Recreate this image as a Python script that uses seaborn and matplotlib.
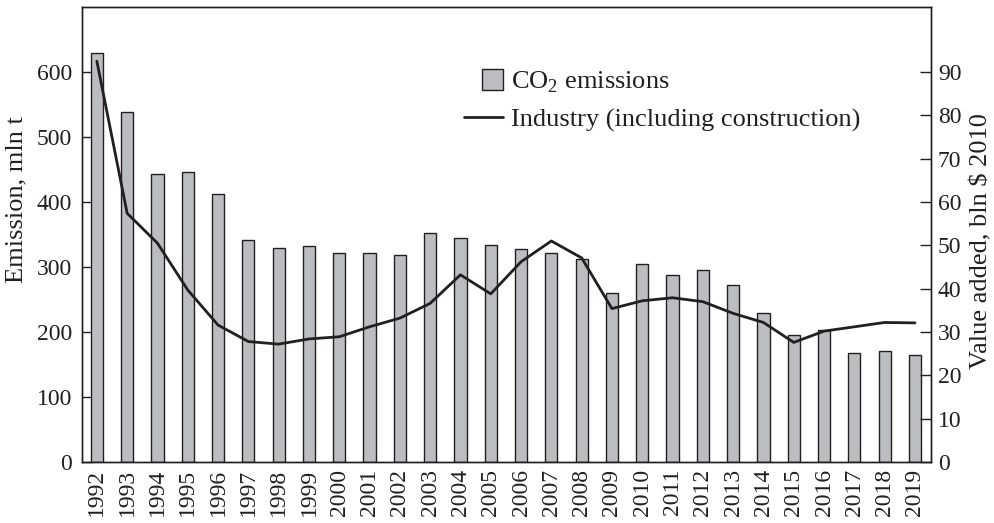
import numpy as np
import pandas as pd
import matplotlib
matplotlib.use("Agg")
import matplotlib.pyplot as plt
import seaborn as sns
from matplotlib.patches import Rectangle
from matplotlib.lines import Line2D
from matplotlib.legend_handler import HandlerPatch

years = [str(y) for y in range(1992, 2020)]
co2 = [630, 539, 443, 446, 413, 341, 329, 333, 321, 322, 319, 353, 344, 334,
       327, 321, 312, 260, 305, 287, 296, 272, 229, 196, 203, 167, 171, 164]
value_added = [92.5, 57.4, 50.5, 39.7, 31.6, 27.8, 27.2, 28.4, 28.9, 31.2, 33.2,
               36.6, 43.2, 38.8, 46.2, 51.0, 47.1, 35.4, 37.2, 37.9, 37.0, 34.3,
               32.2, 27.6, 30.2, 31.2, 32.2, 32.1]
left_ticks = [0, 100, 200, 300, 400, 500, 600]
right_ticks = [0, 10, 20, 30, 40, 50, 60, 70, 80, 90]

sns.set_theme(style="white")
plt.rcParams["font.family"] = ["Liberation Serif", "DejaVu Serif"]
plt.rcParams["mathtext.fontset"] = "custom"
plt.rcParams["mathtext.rm"] = "Liberation Serif"

FS = 17
LFS = 19
ink = "#231f20"
bar_color = "#bcbdc1"

df = pd.DataFrame({"year": years, "co2": co2, "va": value_added})
df["pos"] = np.arange(len(df))

fig = plt.figure(figsize=(9.95, 5.23), dpi=100)
ax = fig.add_axes([82/995, 1-462/523, (931-82)/995, (462-7)/523])

sns.barplot(data=df, x="year", y="co2", ax=ax, color=bar_color, width=0.4,
            edgecolor=ink, linewidth=1.0, saturation=1)
ax.set_xlim(-0.49, 27.53)
ax.set_ylim(0, 700)
ax.set_yticks(left_ticks)
ax.set_ylabel("Emission, mln t", fontsize=LFS, color=ink)
ax.yaxis.set_label_coords(-0.064, 0.576)
ax.set_xlabel("")
ax.tick_params(axis="y", direction="in", length=8, width=1, pad=7,
               labelsize=FS, colors=ink)
ax.tick_params(axis="x", length=0, pad=5, labelsize=FS, labelrotation=90,
               colors=ink)

ax2 = ax.twinx()
sns.lineplot(data=df, x="pos", y="va", ax=ax2, color=ink, linewidth=2.0)
ax2.set_ylim(0, 105)
ax2.set_yticks(right_ticks)
ax2.set_ylabel("Value added, bln $ 2010", fontsize=LFS, color=ink)
ax2.yaxis.set_label_coords(1.046, 0.486)
ax2.tick_params(axis="y", direction="in", length=8, width=1, pad=5,
                labelsize=FS, colors=ink)
ax2.set_xlim(-0.49, 27.53)

for a in (ax, ax2):
    for s in a.spines.values():
        s.set_color(ink)
        s.set_linewidth(1.0)
        s.set_visible(True)


def square_patch(legend, orig_handle, xdescent, ydescent, width, height, fontsize):
    side = height
    return Rectangle((-xdescent + width - side, -ydescent + (height - side) / 2),
                     side, side)


box = Rectangle((0, 0), 1, 1, facecolor=bar_color, edgecolor=ink, linewidth=1.0)
line = Line2D([], [], color=ink, linewidth=2.0)
leg = ax2.legend([box, line], [r"CO$_\mathregular{2}$ emissions",
                               "Industry (including construction)"],
                 handler_map={Rectangle: HandlerPatch(patch_func=square_patch)},
                 loc="upper left", bbox_to_anchor=(464/995, 1-69/523),
                 bbox_transform=fig.transFigure, frameon=False, fontsize=LFS,
                 handlelength=1.48, handleheight=0.85, handletextpad=0.3,
                 labelspacing=0.46, borderaxespad=0, borderpad=0)
for t in leg.get_texts():
    t.set_color(ink)

fig.savefig("out.png", dpi=100)
